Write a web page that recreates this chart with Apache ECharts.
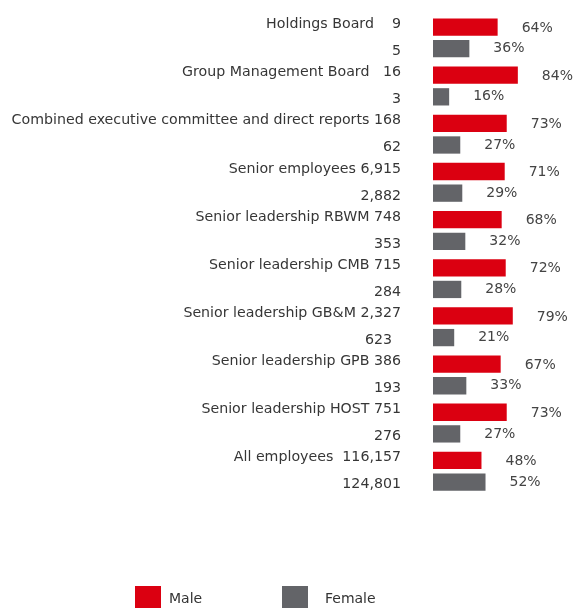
<!DOCTYPE html>
<html>
<head>
<meta charset="utf-8">
<style>
  html, body { margin: 0; padding: 0; background: #ffffff; }
  #chart { width: 576px; height: 608px; }
</style>
<script src="https://cdn.jsdelivr.net/npm/echarts@6/dist/echarts.min.js"></script>
</head>
<body>
<div id="chart"></div>
<script>
// Gender split by employee group
const categories = [
  'Holdings Board',
  'Group Management Board',
  'Combined executive committee and direct reports',
  'Senior employees',
  'Senior leadership RBWM',
  'Senior leadership CMB',
  'Senior leadership GB&M',
  'Senior leadership GPB',
  'Senior leadership HOST',
  'All employees'
];
// spacing between each group name and its head count
const nameGaps = ['    ', '   ', ' ', ' ', ' ', ' ', ' ', ' ', ' ', '  '];
const maleCounts = ['9', '16', '168', '6,915', '748', '715', '2,327', '386', '751', '116,157'];
const femaleCounts = ['5', '3', '62', '2,882', '353', '284', '623  ', '193', '276', '124,801'];
const malePct = [64, 84, 73, 71, 68, 72, 79, 67, 73, 48];
const femalePct = [36, 16, 27, 29, 32, 28, 21, 33, 27, 52];

const RED = '#db0011';
const GREY = '#636468';
const FONT = 'DejaVu Sans';

const chart = echarts.init(document.getElementById('chart'), null, { renderer: 'canvas' });

const legendBase = {
  orient: 'horizontal',
  top: 586,
  padding: 0,
  icon: 'rect',
  itemWidth: 26,
  itemHeight: 26,
  selectedMode: false
};

chart.setOption({
  animation: false,
  backgroundColor: '#ffffff',
  grid: { left: 433, top: 13.8, width: 101, height: 481.5, containLabel: false },
  xAxis: { type: 'value', min: 0, max: 100, show: false },
  yAxis: {
    type: 'category',
    inverse: true,
    data: categories,
    axisLine: { show: false },
    axisTick: { show: false },
    splitLine: { show: false },
    axisLabel: {
      interval: 0,
      showMinLabel: true,
      showMaxLabel: true,
      hideOverlap: false,
      margin: 32,
      fontFamily: FONT,
      fontSize: 14.2,
      color: '#363636',
      lineHeight: 27,
      padding: [6, 0, 0, 0],
      verticalAlign: 'middle',
      formatter: function (value, index) {
        return value + nameGaps[index] + maleCounts[index] + '\n' + femaleCounts[index];
      }
    }
  },
  legend: [
    Object.assign({}, legendBase, {
      left: 135,
      data: ['Male'],
      textStyle: { fontFamily: FONT, fontSize: 14, color: '#333333', padding: [2, 0, 0, 3] }
    }),
    Object.assign({}, legendBase, {
      left: 282,
      data: ['Female'],
      textStyle: { fontFamily: FONT, fontSize: 14, color: '#333333', padding: [2, 0, 0, 12] }
    })
  ],
  series: [
    {
      name: 'Male',
      type: 'bar',
      data: malePct,
      barWidth: 17.3,
      barGap: '25%',
      itemStyle: { color: RED },
      label: {
        show: true,
        position: 'right',
        distance: 24,
        offset: [0, 1],
        fontFamily: FONT,
        fontSize: 14,
        color: '#444444',
        formatter: '{c}%'
      }
    },
    {
      name: 'Female',
      type: 'bar',
      data: femalePct,
      barWidth: 17.3,
      barGap: '25%',
      itemStyle: { color: GREY },
      label: {
        show: true,
        position: 'right',
        distance: 24,
        fontFamily: FONT,
        fontSize: 14,
        color: '#444444',
        formatter: '{c}%'
      }
    }
  ]
});
</script>
</body>
</html>
